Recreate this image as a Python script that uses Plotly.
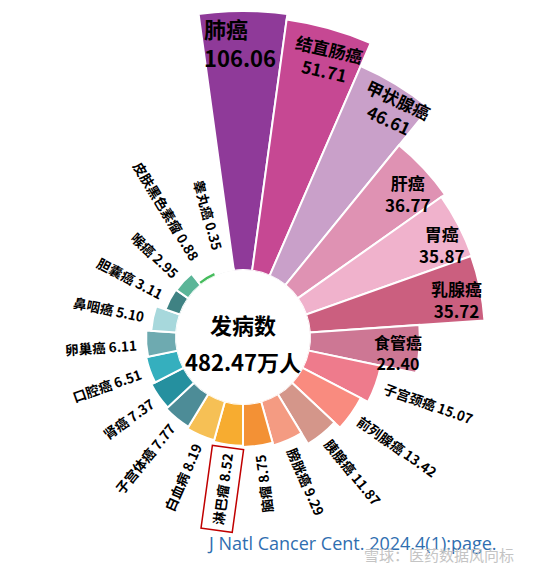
import math
import plotly.graph_objects as go

# ---------------- data ----------------
categories = ["肺癌", "结直肠癌", "甲状腺癌", "肝癌", "胃癌", "乳腺癌", "食管癌",
              "子宫颈癌", "前列腺癌", "胰腺癌", "膀胱癌", "脑瘤", "淋巴瘤", "白血病",
              "子宫体癌", "肾癌", "口腔癌", "卵巢癌", "鼻咽癌", "胆囊癌", "喉癌",
              "皮肤黑色素瘤", "睾丸癌"]
values = [106.06, 51.71, 46.61, 36.77, 35.87, 35.72, 22.40,
          15.07, 13.42, 11.87, 9.29, 8.75, 8.52, 8.19,
          7.77, 7.37, 6.51, 6.11, 5.10, 3.11, 2.95,
          0.88, 0.35]
value_labels = ["106.06", "51.71", "46.61", "36.77", "35.87", "35.72", "22.40",
                "15.07", "13.42", "11.87", "9.29", "8.75", "8.52", "8.19",
                "7.77", "7.37", "6.51", "6.11", "5.10", "3.11", "2.95",
                "0.88", "0.35"]
colors = ["#8F3A99", "#C64893", "#C9A0C9", "#DF92B3", "#F0B2CC", "#CB5F7F", "#CD7794",
          "#EE7B8C", "#F98B7F", "#D4968A", "#F49B82", "#F39135", "#F7AC30", "#F6C055",
          "#4D8C97", "#25909F", "#35AFBE", "#6EAAB0", "#A7D8DC", "#3F8283", "#5BB598",
          "#46BC5D", "#D5D8D8"]
center_title = "发病数"
center_total = "482.47万人"
source_text = "J Natl Cancer Cent. 2024.4(1):page."
watermark_text = "雪球：医药数据风向标"
highlight = "淋巴瘤"

# ---------------- layout geometry ----------------
W, H = 533, 572
OFF = 8                          # page body margin
VCX, VCY = 243, 337              # centre of the rose in the viewport
CX, CY = VCX - OFF, VCY - OFF    # centre in figure px
INNER = 67                       # hole radius (px)
SCALE = 4.9                      # px per unit
TOP = 12                         # viewport y of the capped outer edge
FONT = "Noto Sans CJK SC"

n = len(values)
step = 360.0 / n
theta = [i * step for i in range(n)]


def sector_bbox(s0, s1):
    arc = s1 - s0
    a0 = s0 % 360
    a1 = a0 + arc
    c0, sn0 = math.cos(math.radians(a0)), math.sin(math.radians(a0))
    c1, sn1 = math.cos(math.radians(a1)), math.sin(math.radians(a1))
    if (a0 <= 90 and a1 >= 90) or (a0 > 90 and a1 >= 450):
        y1 = 1
    elif sn0 <= 0 and sn1 <= 0:
        y1 = 0
    else:
        y1 = max(sn0, sn1)
    if (a0 <= 180 and a1 >= 180) or (a0 > 180 and a1 >= 540):
        x0 = -1
    elif c0 >= 0 and c1 >= 0:
        x0 = 0
    else:
        x0 = min(c0, c1)
    if (a0 <= 270 and a1 >= 270) or (a0 > 270 and a1 >= 630):
        y0 = -1
    elif sn0 >= 0 and sn1 >= 0:
        y0 = 0
    else:
        y0 = min(sn0, sn1)
    if a1 >= 360:
        x1 = 1
    elif c0 <= 0 and c1 <= 0:
        x1 = 0
    else:
        x1 = max(c0, c1)
    return x0, y0, x1, y1


def polar_layout(R, sector=None):
    if sector is None:
        bx0, by0, bx1, by1 = -1, -1, 1, 1
    else:
        bx0, by0, bx1, by1 = sector_bbox(*sector)
    d = dict(
        domain=dict(x=[(CX + R * bx0) / W, (CX + R * bx1) / W],
                    y=[1 - (CY - R * by0) / H, 1 - (CY - R * by1) / H]),
        hole=INNER / R,
        bgcolor="rgba(0,0,0,0)",
        radialaxis=dict(visible=False, range=[0, (R - INNER) / SCALE]),
        angularaxis=dict(visible=False, rotation=90, direction="clockwise"),
    )
    if sector is not None:
        d["sector"] = list(sector)
    return d


# groups of bars -> (subplot, radius px, sector)
groups = [
    ("polar", [0, 1, 2], VCY - TOP, (50, 100)),     # top bars, lung capped at outer edge
    ("polar2", [3, 4, 5, 6], 260, (-15, 52)),       # right side
    ("polar3", list(range(7, n)), 215, None),       # the rest
]

fig = go.Figure()
layout_polars = {}
for sp, idx, R, sec in groups:
    fig.add_trace(go.Barpolar(
        r=[values[i] for i in idx], theta=[theta[i] for i in idx],
        width=[step] * len(idx),
        marker=dict(color=[colors[i] for i in idx], line=dict(color="white", width=2)),
        subplot=sp, hoverinfo="skip", showlegend=False))
    layout_polars[sp] = polar_layout(R, sec)

fig.update_layout(width=W, height=H, margin=dict(l=0, r=0, t=0, b=0),
                  paper_bgcolor="white", plot_bgcolor="white", **layout_polars)


def px(x, y):
    """viewport px -> paper coords"""
    return (x - OFF) / W, 1 - (y - OFF) / H


ann = []
# big labels inside bars: index -> (x, y, angle, size, xanchor, align)
big = {
    0: (202, 43, 0, 22, "left", "left"),
    1: (327, 59, 13, 17, "center", "center"),
    2: (394, 109, 25, 17, "center", "center"),
    3: (408, 193, 0, 17, "center", "center"),
    4: (442, 244, 0, 17, "center", "center"),
    5: (456, 299, 0, 17, "center", "center"),
    6: (398, 352, 0, 16, "center", "center"),
}
for i, (x, y, ang, sz, xa, al) in big.items():
    xx, yy = px(x, y)
    ann.append(dict(x=xx, y=yy, xref="paper", yref="paper",
                    text=f"{categories[i]}<br>{value_labels[i]}",
                    showarrow=False, textangle=ang, xanchor=xa, yanchor="middle",
                    align=al,
                    font=dict(family=FONT, size=sz, color="black", weight="bold")))

# radial labels outside the small bars
FS = 13.5
for i in range(7, n):
    phi = theta[i]
    bar_end = INNER + SCALE * values[i]
    r_near = max(bar_end, 82) + 9
    txt = f"{categories[i]} {value_labels[i]}"
    L = FS * len(categories[i]) + 4 + 8.0 * (len(value_labels[i]) - 1) + 3.5
    rc = r_near + L / 2
    x = VCX + rc * math.sin(math.radians(phi))
    y = VCY - rc * math.cos(math.radians(phi))
    ang = phi - 90 if phi < 170 else phi - 270
    xx, yy = px(x, y)
    a = dict(x=xx, y=yy, xref="paper", yref="paper", text=txt, showarrow=False,
             textangle=ang, xanchor="center", yanchor="middle",
             font=dict(family=FONT, size=FS, color="black", weight="bold"))
    if categories[i] == highlight:
        a.update(bordercolor="#C00000", borderwidth=1.5, borderpad=5)
    ann.append(a)

# centre text
xx, yy = px(243, 324)
ann.append(dict(x=xx, y=yy, xref="paper", yref="paper", text=center_title,
                showarrow=False, font=dict(family=FONT, size=22, color="black", weight="bold")))
xx, yy = px(243, 361)
ann.append(dict(x=xx, y=yy, xref="paper", yref="paper", text=center_total,
                showarrow=False, font=dict(family=FONT, size=22, color="black", weight="bold")))

# source and watermark
xx, yy = px(205, 543)
ann.append(dict(x=xx, y=yy, xref="paper", yref="paper", text=source_text,
                showarrow=False, xanchor="left", yanchor="middle",
                font=dict(family="Open Sans", size=18, color="#2F6EB0")))
xx, yy = px(362, 554)
ann.append(dict(x=xx, y=yy, xref="paper", yref="paper", text=watermark_text,
                showarrow=False, xanchor="left", yanchor="middle",
                font=dict(family=FONT, size=15, color="#C4C4C4")))

fig.update_layout(annotations=ann)
fig.write_html("out.html")
